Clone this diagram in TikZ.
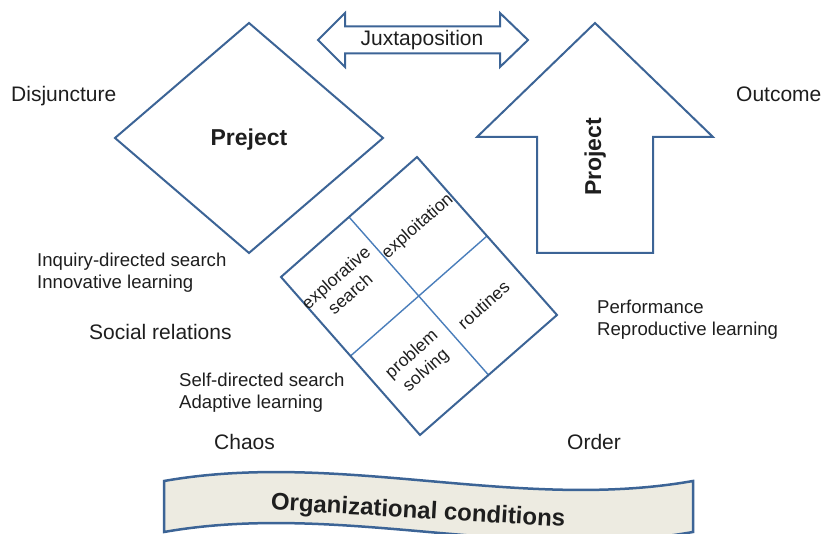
\documentclass[tikz,border=0pt]{standalone}
\usepackage{fontspec}
\setmainfont{Liberation Sans}
\usetikzlibrary{calc}
\definecolor{FrameBlue}{HTML}{3C6496}
\definecolor{GridBlue}{HTML}{4A7EBB}
\definecolor{BandFill}{HTML}{EDEBE1}
\definecolor{LabelText}{HTML}{1E1E1E}
\newcommand{\lblsize}{\fontsize{21}{25}\selectfont}
\newcommand{\notesize}{\fontsize{18.6}{22}\selectfont}
\newcommand{\cellsize}{\fontsize{17.5}{21.5}\selectfont}
\newcommand{\headsize}{\fontsize{23}{27}\selectfont\bfseries}

\begin{document}
\begin{tikzpicture}[x=1pt,y=-1pt,
  frame/.style={draw=FrameBlue,line width=2pt,line join=miter},
  gridline/.style={draw=GridBlue,line width=1.4pt},
  lbl/.style={inner sep=0pt,anchor=base west,text=LabelText,font=\lblsize},
  note/.style={inner sep=0pt,anchor=base west,align=left,text=LabelText,font=\notesize},
  head/.style={inner sep=0pt,anchor=base,text=LabelText,font=\headsize},
  cell/.style={inner sep=0pt,align=center,rotate=41.5,text=LabelText,font=\cellsize}]

  \useasboundingbox (0,0) rectangle (823,534);

  % wavy band at the bottom
  \draw[frame,fill=BandFill,line width=2.5pt]
    (164,481) .. controls (340,450) and (517,512) .. (693,481) -- (693,532)
    .. controls (517,563) and (340,501) .. (164,532) -- cycle;
  \node[head,anchor=center,rotate=-3.3,font=\fontsize{24}{28}\selectfont\bfseries] (orgcond) at (418,512) {Organizational conditions};

  % diamond
  \draw[frame] (115,138) -- (249,23) -- (383,138) -- (249,253) -- cycle;
  \node[head] (preject) at (249,146) {Preject};

  % double arrow
  \draw[frame] (318,40) -- (345,13) -- (345,26.5) -- (500,26.5) -- (500,13) -- (528,40)
    -- (500,67) -- (500,53.5) -- (345,53.5) -- (345,67) -- cycle;
  \node[lbl,anchor=base] (juxta) at (422,46) {Juxtaposition};

  % upward arrow
  \draw[frame] (595,23) -- (713,137) -- (653,137) -- (653,253) -- (537,253) -- (537,137)
    -- (477,137) -- cycle;
  \node[head,rotate=90] (project) at (601,157) {Project};

  % tilted four-cell square
  \coordinate (gt) at (417,157);
  \coordinate (gr) at (557,315);
  \coordinate (gb) at (420,435);
  \coordinate (gl) at (281,277);
  \coordinate (gc) at ($(gt)!0.5!(gb)$);
  \draw[gridline] ($(gl)!0.5!(gt)$) -- ($(gb)!0.5!(gr)$);
  \draw[gridline] ($(gl)!0.5!(gb)$) -- ($(gt)!0.5!(gr)$);
  \draw[frame] (gt) -- (gr) -- (gb) -- (gl) -- cycle;
  \node[cell] (exploit) at ($(gc)!0.5!(gt)$) {exploitation};
  \node[cell] (explore) at ($(gc)!0.55!(gl)$) {explorative\\search};
  \node[cell] (routine) at ($(gc)!0.47!(gr)$) {routines};
  \node[cell] (solving) at ($(gc)!0.48!(gb)$) {problem\\solving};

  % surrounding labels (two-line notes sit on their last baseline)
  \node[lbl] (disj) at (11,102) {Disjuncture};
  \node[lbl] (outcome) at (736,102) {Outcome};
  \node[note] (inquiry) at (37,289) {Inquiry-directed search\\Innovative learning};
  \node[lbl] (social) at (89,340) {Social relations};
  \node[note] (selfdir) at (179,409) {Self-directed search\\Adaptive learning};
  \node[note] (perform) at (597,336) {Performance\\Reproductive learning};
  \node[lbl] (chaos) at (214,450) {Chaos};
  \node[lbl] (order) at (567,450) {Order};
\end{tikzpicture}
\end{document}
